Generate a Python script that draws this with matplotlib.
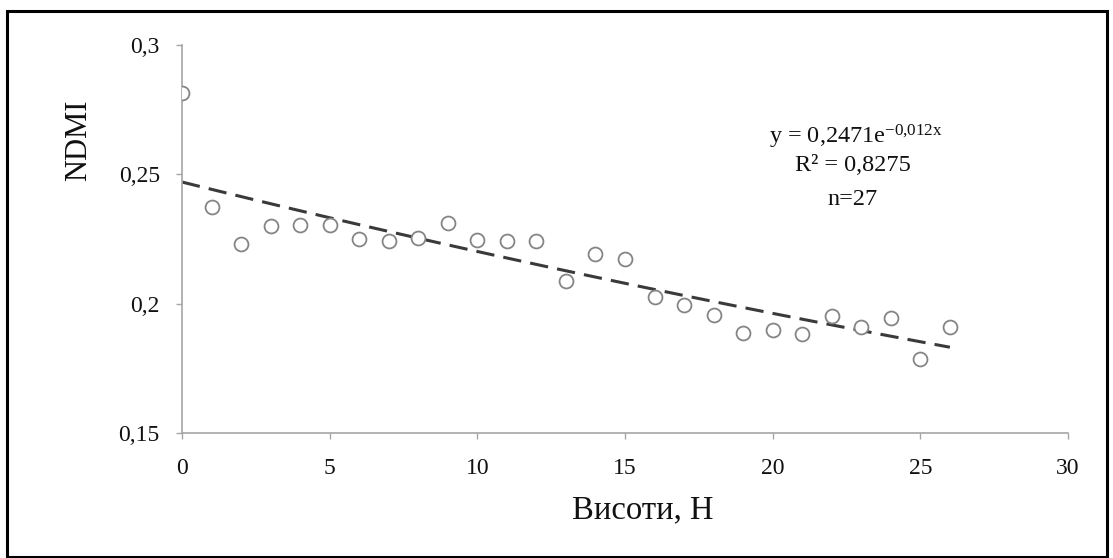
import numpy as np
import matplotlib
matplotlib.use("Agg")
import matplotlib.pyplot as plt
from matplotlib.patches import Rectangle
from matplotlib.ticker import FuncFormatter

plt.rcParams['font.family'] = ['Liberation Serif', 'DejaVu Serif']
plt.rcParams['mathtext.fontset'] = 'custom'
plt.rcParams['mathtext.rm'] = 'Liberation Serif'
plt.rcParams['mathtext.default'] = 'regular'

# heights (x) and NDMI values
heights = list(range(27))
ndmi = [0.2814, 0.2374, 0.2231, 0.2300, 0.2304, 0.2304, 0.2250, 0.2242, 0.2254,
        0.2312, 0.2246, 0.2242, 0.2242, 0.2088, 0.2192, 0.2173, 0.2026, 0.1995,
        0.1956, 0.1887, 0.1898, 0.1883, 0.1952, 0.1910, 0.1945, 0.1786, 0.1910]

x_ticks = [0, 5, 10, 15, 20, 25, 30]
y_ticks = [0.15, 0.2, 0.25, 0.3]

eq_text = r'y = 0,2471e$^{-0{,}012x}$'
r2_text = 'R² = 0,8275'
n_text = 'n=27'

x = np.array(heights, dtype=float)
y = np.array(ndmi)
# exponential trendline, fitted on log(y)
b, lna = np.polyfit(x, np.log(y), 1)
xt = np.linspace(x.min(), x.max(), 100)
yt = np.exp(lna) * np.exp(b * xt)

fig = plt.figure(figsize=(11.13, 5.58), dpi=100)
ax = fig.add_axes([0.1635, 0.224, 0.7961, 0.6954])

ax.plot(xt, yt, color='#3a3a3a', lw=2.2, dashes=(6, 3), zorder=2)
ax.plot(x, y, 'o', ms=10, mfc='white', mec='#858585', mew=1.3, zorder=3)

ax.set_xlim(0, 30)
ax.set_ylim(0.15, 0.3)
ax.set_xticks(x_ticks)
ax.set_yticks(y_ticks)
ax.yaxis.set_major_formatter(FuncFormatter(lambda v, p: ('%g' % v).replace('.', ',')))

for s in ('top', 'right'):
    ax.spines[s].set_visible(False)
for s in ('left', 'bottom'):
    ax.spines[s].set_color('#a6a6a6')
    ax.spines[s].set_linewidth(1.2)
ax.tick_params(direction='out', length=4, width=1, color='#a6a6a6',
               labelsize=17, labelcolor='#111111')
ax.tick_params(axis='x', pad=14)
ax.tick_params(axis='y', pad=12)

ax.set_xlabel('Висоти, H', fontsize=23.5, color='#111111')
ax.set_ylabel('NDMI', fontsize=22, color='#111111')
ax.xaxis.set_label_coords(0.520, -0.159)
ax.yaxis.set_label_coords(-0.100, 0.755)

tkw = dict(transform=ax.transAxes, ha='center', va='center', fontsize=17.5, color='#111111')
ax.text(0.760, 0.762, eq_text, **tkw)
ax.text(0.757, 0.689, r2_text, **tkw)
ax.text(0.757, 0.602, n_text, **tkw)

fig.patches.append(Rectangle((7 / 1113, 0.002), 1100 / 1113, 546 / 558,
                             transform=fig.transFigure, fill=False,
                             ec='black', lw=2.2))

fig.savefig('out.png', dpi=100)
